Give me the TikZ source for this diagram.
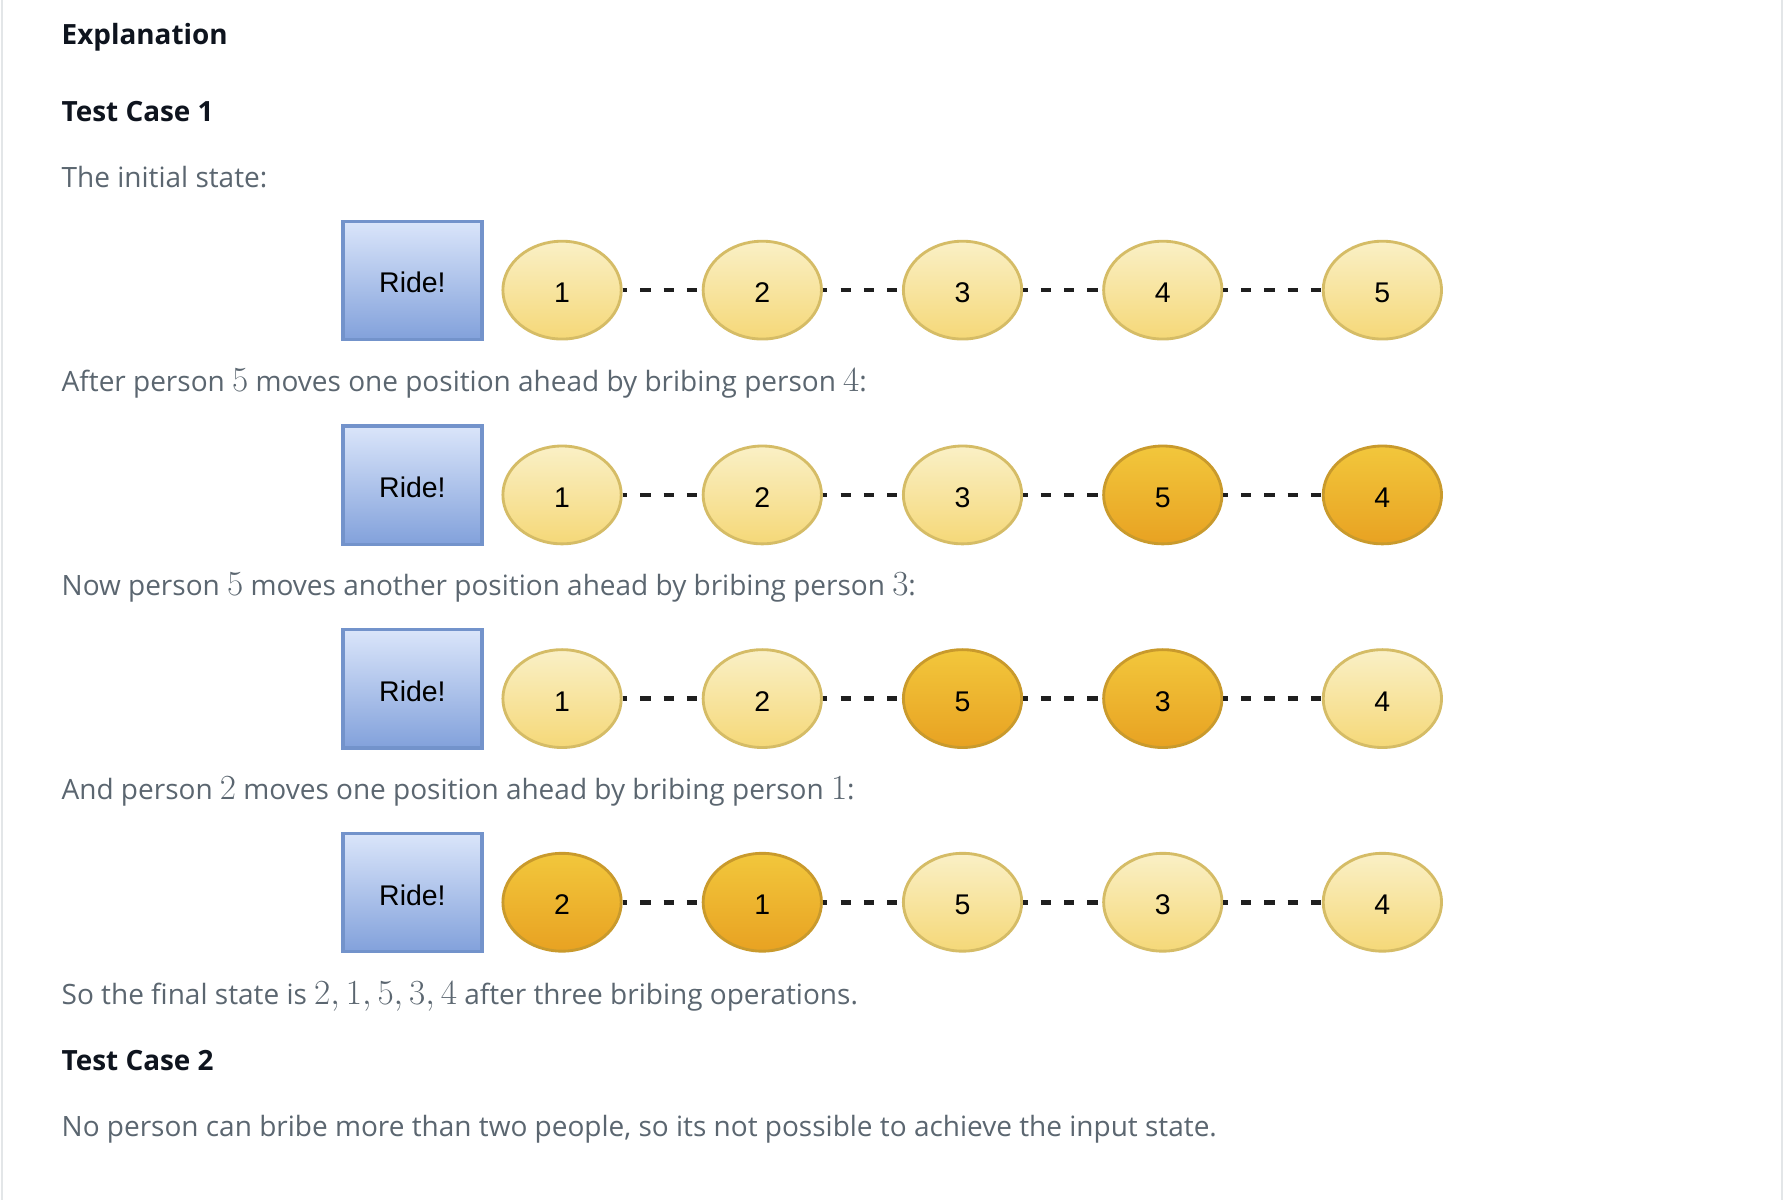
\RequirePackage{fix-cm}
\documentclass[tikz,border=0pt]{standalone}
\usepackage{fontspec}
\setmainfont{Open Sans}
\newfontfamily\drawfont{Liberation Sans}
\usepackage{tikz}
\usetikzlibrary{shapes.geometric}
\definecolor{bodygrey}{HTML}{5B6670}
\definecolor{headblack}{HTML}{0E141E}
\definecolor{pagerule}{HTML}{E3E6E8}
\definecolor{ridetop}{HTML}{DAE5FA}
\definecolor{ridebot}{HTML}{82A1DB}
\definecolor{rideline}{HTML}{7393CB}
\definecolor{waittop}{HTML}{FAF0C6}
\definecolor{waitbot}{HTML}{F5D878}
\definecolor{waitline}{HTML}{D5BC66}
\definecolor{bribetop}{HTML}{F2C73C}
\definecolor{bribebot}{HTML}{E8A222}
\definecolor{bribeline}{HTML}{C99A2C}
\newcommand\mth[1]{{\fontsize{31}{31}\selectfont$#1$}}
\tikzstyle{ride} = [rectangle, draw=rideline, line width=3pt, top color=ridetop, bottom color=ridebot,
	minimum width=122pt, minimum height=104pt, inner sep=0pt, text height=22pt, text depth=0pt,
	font=\drawfont\fontsize{25}{25}\selectfont]
\tikzstyle{wait} = [ellipse, draw=waitline, line width=2.5pt, top color=waittop, bottom color=waitbot,
	minimum width=104pt, minimum height=86pt, inner sep=0pt, text height=22pt, text depth=0pt,
	font=\drawfont\fontsize{25}{25}\selectfont]
\tikzstyle{bribed} = [wait, draw=bribeline, top color=bribetop, bottom color=bribebot]
\tikzstyle{link} = [line width=4pt, black!88, dash pattern=on 9pt off 11.5pt, dash phase=5pt]
\tikzstyle{heading} = [anchor=base west, inner sep=0pt, text=headblack, font=\bfseries\fontsize{24.5}{29}\selectfont]
\tikzstyle{prose} = [anchor=base west, inner sep=0pt, text=bodygrey, font=\fontsize{24.6}{29}\selectfont]

\begin{document}
\begin{tikzpicture}[x=1pt, y=-1pt]
	\useasboundingbox (0,0) rectangle (1568,1055);
	\fill[white] (0,0) rectangle (1568,1055);
	\draw[pagerule, line width=2pt] (2,0) -- (2,1055) (1566,0) -- (1566,1055);

	\node[heading] (expl) at (54,39.5) {Explanation};
	\node[heading] (case1) at (54,106.5) {Test Case 1};
	\node[prose] (init) at (54,164.5) {The initial state:};

	% initial state
	\node[ride] (ride1) at (362.5,246.5) {Ride!};
	\node[wait] (p11) at (494,255) {1};
	\node[wait] (p12) at (670,255) {2};
	\node[wait] (p13) at (846,255) {3};
	\node[wait] (p14) at (1022,255) {4};
	\node[wait] (p15) at (1215,255) {5};

	\node[prose] (step1) at (54,344.5) {After person \mth{5} moves one position ahead by bribing person \mth{4}:};

	% 5 bribes 4
	\node[ride] (ride2) at (362.5,426.5) {Ride!};
	\node[wait] (p21) at (494,435) {1};
	\node[wait] (p22) at (670,435) {2};
	\node[wait] (p23) at (846,435) {3};
	\node[bribed] (p24) at (1022,435) {5};
	\node[bribed] (p25) at (1215,435) {4};

	\node[prose] (step2) at (54,523.5) {Now person \mth{5} moves another position ahead by bribing person \mth{3}:};

	% 5 bribes 3
	\node[ride] (ride3) at (362.5,605.5) {Ride!};
	\node[wait] (p31) at (494,614) {1};
	\node[wait] (p32) at (670,614) {2};
	\node[bribed] (p33) at (846,614) {5};
	\node[bribed] (p34) at (1022,614) {3};
	\node[wait] (p35) at (1215,614) {4};

	\node[prose] (step3) at (54,702.5) {And person \mth{2} moves one position ahead by bribing person \mth{1}:};

	% 2 bribes 1
	\node[ride] (ride4) at (362.5,784.5) {Ride!};
	\node[bribed] (p41) at (494,793) {2};
	\node[bribed] (p42) at (670,793) {1};
	\node[wait] (p43) at (846,793) {5};
	\node[wait] (p44) at (1022,793) {3};
	\node[wait] (p45) at (1215,793) {4};

	\foreach \r in {1,...,4}
		\foreach \i/\j in {1/2,2/3,3/4,4/5}
			\draw[link] (p\r\i) -- (p\r\j);

	\node[prose] (final) at (54,882.5) {So the final state is \mth{2, 1, 5, 3, 4} after three bribing operations.};
	\node[heading] (case2) at (54,940.5) {Test Case 2};
	\node[prose] (nocase) at (54,998.5) {No person can bribe more than two people, so its not possible to achieve the input state.};
\end{tikzpicture}
\end{document}
